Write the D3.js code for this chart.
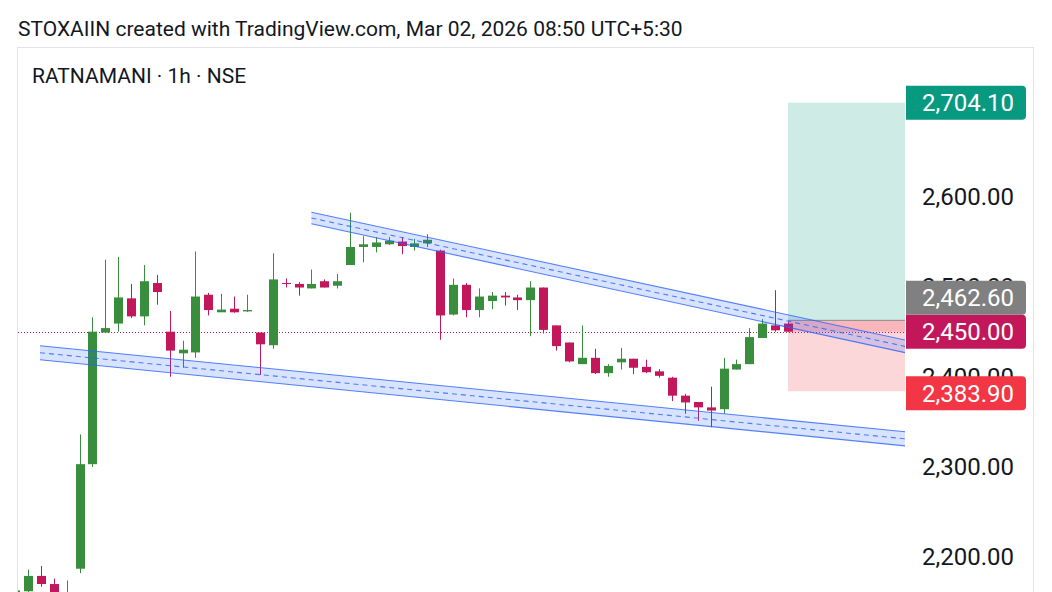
<!DOCTYPE html>
<html><head><meta charset="utf-8">
<script src="https://cdn.jsdelivr.net/npm/d3@7"></script>
<style>
body{margin:0;background:#fff;}
svg{display:block;font-family:Roboto, "Liberation Sans", sans-serif;}
</style>
</head><body>
<svg id="c" width="1052" height="592"></svg>
<script>
// ---- data ----
const candleIndex = d3.range(-1, 60);
const opens  = [2150,2162,2179,2170,2150,2187,2303,2449,2459,2487,2467,2504,2450,2426,2427,2491,2471.5,2475.5,2472.5,2449,2435,
                2504,2503,2498,2506,2501,2524,2544,2544,2547,2550,2544,2548,2540,2469,2502,2474,2484,2490,2488,2485,
                2499,2457,2438,2414,2421,2404,2416,2420,2411,2406,2399,2379,2372,2366,2364,2408,2414,2443,2457,2459];
const highs  = [2168,2186,2190,2176,2174,2336,2466,2530,2533,2503,2524,2513,2473,2440,2539,2493,2492,2489,2491,2449,2537,
                2509,2505,2519,2508,2514,2582,2556,2555,2555,2555,2553,2558,2541,2509,2504,2498,2494,2494,2491,2506,
                2499,2457,2438,2457,2431,2414,2432,2420,2419,2408.5,2400,2381,2372,2389,2421,2419,2454,2464,2496,2461];
const lows   = [2145,2158,2167,2148,2140,2182,2300,2449,2450,2465,2457,2480,2400,2410,2421,2468,2472,2471,2472,2402,2431,
                2499,2490,2498,2499,2498,2524,2527,2538,2546,2536,2540,2544,2441,2468,2466,2466,2475,2479,2474,2445,
                2448,2429,2416,2414,2403,2400,2408,2403,2404,2399,2373,2359,2351,2344,2359,2408,2414,2443,2450,2450];
const closes = [2163,2179,2170,2155,2158,2303,2450,2454,2488,2467,2506,2494,2429,2430,2489,2474,2474.5,2471.5,2474,2436,2508,
                2503,2499,2503,2499,2506,2544,2547,2549,2551,2545,2548,2552,2468,2502,2474,2489,2490,2488,2485,2499,
                2452,2434,2417,2421,2404,2412,2420,2410,2405,2401,2379,2371.5,2366,2362.5,2409,2414,2444,2459,2451.5,2450];
const priceTicks = [2200, 2300, 2400, 2500, 2600];
const targetPrice = 2704.10, entryPrice = 2462.60, stopPrice = 2383.90, lastPrice = 2450.00;
const positionIdx = [59, 68.09];
const upperChannelIdx = [22, 68.09];
const upperChannelTop = [2582.6, 2440.7];
const upperChannelBottom = [2569.7, 2426.7];
const lowerChannelIdx = [0.93, 68.09];
const lowerChannelTop = [2434.4, 2338.9];
const lowerChannelBottom = [2418.9, 2323.3];
const titleText = "STOXAIIN created with TradingView.com, Mar 02, 2026 08:50 UTC+5:30";
const symbolText = "RATNAMANI · 1h · NSE";

// ---- layout ----
const W = 1052, H = 592;
const panel = {left: 17.5, top: 47.5, right: 1033.5};
const plotRight = 905;
const svg = d3.select("#c");
const x = d3.scaleLinear().domain([0, 59]).range([28, 788]);
const y = d3.scaleLinear().domain([2200, 2600]).range([557, 196.5]);
const up = "#388e3c", down = "#c2185b";

svg.append("text").attr("x", 18).attr("y", 36).attr("font-size", 21).attr("fill", "#131722").text(titleText);

svg.append("rect").attr("x", panel.left).attr("y", panel.top).attr("width", panel.right - panel.left)
  .attr("height", H + 10 - panel.top).attr("fill", "#fff").attr("stroke", "#e0e3eb").attr("stroke-width", 1);

svg.append("text").attr("x", 32).attr("y", 83).attr("font-size", 21).attr("fill", "#131722").text(symbolText);

svg.append("clipPath").attr("id", "plotclip").append("rect")
  .attr("x", 18).attr("y", 48).attr("width", plotRight - 18).attr("height", H - 48);
const plot = svg.append("g").attr("clip-path", "url(#plotclip)");

// position box
const px0 = x(positionIdx[0]), px1 = x(positionIdx[1]);
plot.append("rect").attr("x", px0).attr("width", px1 - px0).attr("y", y(targetPrice))
  .attr("height", y(entryPrice) - y(targetPrice)).attr("fill", "#089981").attr("fill-opacity", 0.2);
plot.append("rect").attr("x", px0).attr("width", px1 - px0).attr("y", y(entryPrice))
  .attr("height", y(stopPrice) - y(entryPrice)).attr("fill", "#f23645").attr("fill-opacity", 0.2);
plot.append("rect").attr("x", px0).attr("width", px1 - px0).attr("y", y(entryPrice))
  .attr("height", y(lastPrice) - y(entryPrice)).attr("fill", "#f23645").attr("fill-opacity", 0.2);
plot.append("line").attr("x1", px0).attr("x2", px1).attr("y1", y(entryPrice)).attr("y2", y(entryPrice))
  .attr("stroke", "#8a8a8a").attr("stroke-width", 1);

// last price dotted line
plot.append("line").attr("x1", 18).attr("x2", plotRight).attr("y1", Math.round(y(lastPrice)) + 0.5)
  .attr("y2", Math.round(y(lastPrice)) + 0.5).attr("stroke", down).attr("stroke-width", 1).attr("stroke-dasharray", "1,2");

// candles
const candles = candleIndex.map((i, k) => ({i, o: opens[k], h: highs[k], l: lows[k], c: closes[k]}));
const cg = plot.append("g");
const bw = 9;
cg.selectAll("line.w").data(candles).join("line")
  .attr("x1", d => Math.round(x(d.i)) + 0.5).attr("x2", d => Math.round(x(d.i)) + 0.5)
  .attr("y1", d => y(d.h)).attr("y2", d => y(d.l))
  .attr("stroke", d => d.c >= d.o ? up : down).attr("stroke-width", 1);
cg.selectAll("rect.b").data(candles).join("rect")
  .attr("x", d => Math.round(x(d.i)) + 0.5 - bw / 2).attr("width", bw)
  .attr("y", d => y(Math.max(d.o, d.c)))
  .attr("height", d => Math.max(1, Math.abs(y(d.o) - y(d.c))))
  .attr("fill", d => d.c >= d.o ? up : down);

// channels
function channel(idx, top, bot) {
  const g = plot.append("g");
  const pts = [[x(idx[0]), y(top[0])], [x(idx[1]), y(top[1])], [x(idx[1]), y(bot[1])], [x(idx[0]), y(bot[0])]];
  g.append("path").attr("d", d3.line()(pts) + "Z").attr("fill", "#2962ff").attr("fill-opacity", 0.18);
  const line = d3.line();
  g.append("path").attr("d", line([[x(idx[0]), y(top[0])], [x(idx[1]), y(top[1])]]))
    .attr("stroke", "#2962ff").attr("stroke-opacity", 0.8).attr("stroke-width", 1.1).attr("fill", "none");
  g.append("path").attr("d", line([[x(idx[0]), y(bot[0])], [x(idx[1]), y(bot[1])]]))
    .attr("stroke", "#2962ff").attr("stroke-opacity", 0.8).attr("stroke-width", 1.1).attr("fill", "none");
  g.append("path").attr("d", line([[x(idx[0]), y((top[0] + bot[0]) / 2)], [x(idx[1]), y((top[1] + bot[1]) / 2)]]))
    .attr("stroke", "#2962ff").attr("stroke-opacity", 0.8).attr("stroke-width", 1.1)
    .attr("stroke-dasharray", "5,4").attr("fill", "none");
}
channel(upperChannelIdx, upperChannelTop, upperChannelBottom);
channel(lowerChannelIdx, lowerChannelTop, lowerChannelBottom);

// price axis
const fmt = d3.format(",.2f");
const axis = d3.axisRight(y).tickValues(priceTicks).tickFormat(fmt).tickSize(0).tickPadding(17);
const ag = svg.append("g").attr("transform", `translate(${plotRight},0)`).call(axis);
ag.select(".domain").remove();
ag.selectAll("text").attr("font-family", "Roboto, sans-serif").attr("font-size", 24).attr("fill", "#131722");

// price labels
const boxH = 34, boxX = 906, boxW = 120, r = 4;
function label(price, color, cy) {
  const top = cy - boxH / 2;
  const p = `M${boxX},${top} H${boxX + boxW - r} Q${boxX + boxW},${top} ${boxX + boxW},${top + r} V${top + boxH - r} Q${boxX + boxW},${top + boxH} ${boxX + boxW - r},${top + boxH} H${boxX} Z`;
  svg.append("path").attr("d", p).attr("fill", color);
  svg.append("text").attr("x", 922).attr("y", cy).attr("dy", "0.35em").attr("font-size", 24)
    .attr("fill", "#fff").text(fmt(price));
}
const yLast = y(lastPrice);
label(targetPrice, "#089981", y(targetPrice));
label(lastPrice, down, yLast);
label(entryPrice, "#808080", Math.min(y(entryPrice), yLast - boxH));
label(stopPrice, "#f23645", Math.max(y(stopPrice), yLast + boxH) + 2);
</script>
</body></html>
